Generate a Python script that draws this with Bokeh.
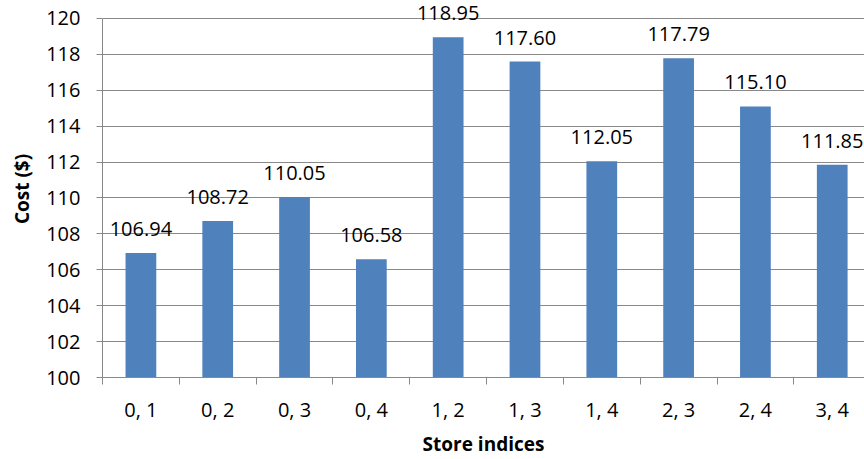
from bokeh.plotting import figure
from bokeh.models import Range1d, FixedTicker, ColumnDataSource, LabelSet
from bokeh.core.properties import value
from bokeh.embed import file_html
from bokeh.resources import INLINE

# Store pairs and the cost of each pairing
pairs = ["0, 1", "0, 2", "0, 3", "0, 4", "1, 2", "1, 3", "1, 4", "2, 3", "2, 4", "3, 4"]
costs = [106.94, 108.72, 110.05, 106.58, 118.95, 117.60, 112.05, 117.79, 115.10, 111.85]
y_ticks = [100, 102, 104, 106, 108, 110, 112, 114, 116, 118, 120]

FONT = "Open Sans"
BAR = "#4F81BD"
GRID = "#898989"

xs = list(range(len(pairs)))
src = ColumnDataSource(dict(
    x=xs,
    cost=costs,
    label=[f"{c:.2f}" for c in costs],
))

# y range runs a little past 120 so the tallest value label has room;
# the axis line itself stops at 120 via its bounds
p = figure(
    width=864, height=459,
    output_backend="svg", toolbar_location=None,
    x_range=Range1d(-0.5, 9.42), y_range=Range1d(100, 121),
    min_border_left=102, min_border_right=0,
    min_border_top=0, min_border_bottom=81,
)
p.outline_line_color = None
p.background_fill_color = "white"
p.border_fill_color = "white"

p.vbar(x="x", top="cost", bottom=100, width=0.4, source=src,
       fill_color=BAR, line_color=None)

labels = LabelSet(x="x", y="cost", text="label", source=src,
                  text_align="center", text_baseline="middle", y_offset=24,
                  text_font=value(FONT), text_font_size="20px", text_color="black")
p.add_layout(labels)

# y axis
p.yaxis.ticker = FixedTicker(ticks=y_ticks)
p.yaxis.bounds = (100, 120)
p.yaxis.axis_line_color = GRID
p.yaxis.major_tick_line_color = GRID
p.yaxis.major_tick_in = 0
p.yaxis.major_tick_out = 6
p.yaxis.minor_tick_line_color = None
p.yaxis.major_label_standoff = 16
p.yaxis.major_label_text_font = FONT
p.yaxis.major_label_text_font_size = "20px"
p.yaxis.major_label_text_color = "black"
p.yaxis.axis_label = "Cost ($)"
p.yaxis.axis_label_text_font = FONT
p.yaxis.axis_label_text_font_style = "bold"
p.yaxis.axis_label_text_font_size = "19px"
p.yaxis.axis_label_text_color = "black"
p.yaxis.axis_label_standoff = 8

# x axis: labels at bar centres, tick marks between categories
p.xaxis.ticker = FixedTicker(ticks=xs, minor_ticks=[i - 0.5 for i in range(len(pairs) + 1)])
p.xaxis.major_label_overrides = {i: s for i, s in zip(xs, pairs)}
p.xaxis.axis_line_color = GRID
p.xaxis.major_tick_line_color = None
p.xaxis.major_tick_in = 0
p.xaxis.major_tick_out = 0
p.xaxis.minor_tick_line_color = GRID
p.xaxis.minor_tick_in = 0
p.xaxis.minor_tick_out = 7
p.xaxis.major_label_standoff = 11
p.xaxis.major_label_text_font = FONT
p.xaxis.major_label_text_font_size = "20px"
p.xaxis.major_label_text_color = "black"
p.xaxis.axis_label = "Store indices"
p.xaxis.axis_label_text_font = FONT
p.xaxis.axis_label_text_font_style = "bold"
p.xaxis.axis_label_text_font_size = "19px"
p.xaxis.axis_label_text_color = "black"
p.xaxis.axis_label_standoff = 5

p.xgrid.grid_line_color = None
p.ygrid.ticker = FixedTicker(ticks=y_ticks)
p.ygrid.grid_line_color = GRID
p.ygrid.grid_line_width = 1

open("out.html", "w").write(file_html(p, INLINE))
